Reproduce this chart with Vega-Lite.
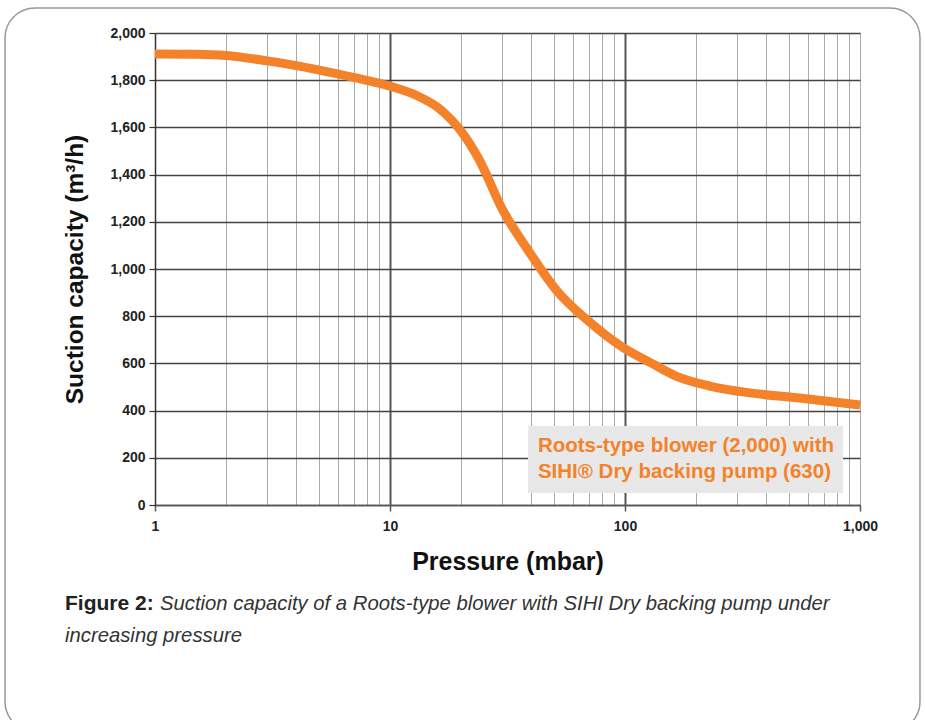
{
  "$schema": "https://vega.github.io/schema/vega-lite/v6.json",
  "autosize": {"type": "none"},
  "width": 705,
  "height": 472,
  "padding": {"left": 155, "top": 33, "right": 65, "bottom": 215},
  "background": "white",
  "config": {
    "view": {"stroke": "#999", "strokeWidth": 1},
    "font": "Liberation Sans"
  },
  "datasets": {
    "curve": [
      {"pressure": 1, "capacity": 1911},
      {"pressure": 1.5, "capacity": 1910},
      {"pressure": 2, "capacity": 1905},
      {"pressure": 3, "capacity": 1882},
      {"pressure": 4, "capacity": 1862},
      {"pressure": 5, "capacity": 1843},
      {"pressure": 7, "capacity": 1812},
      {"pressure": 10, "capacity": 1775},
      {"pressure": 13, "capacity": 1735},
      {"pressure": 16, "capacity": 1684},
      {"pressure": 18.4, "capacity": 1628},
      {"pressure": 20, "capacity": 1586},
      {"pressure": 24, "capacity": 1462},
      {"pressure": 30, "capacity": 1255},
      {"pressure": 39.4, "capacity": 1068},
      {"pressure": 51, "capacity": 911},
      {"pressure": 69, "capacity": 784},
      {"pressure": 98, "capacity": 667},
      {"pressure": 130, "capacity": 600},
      {"pressure": 166, "capacity": 545},
      {"pressure": 229, "capacity": 504},
      {"pressure": 340, "capacity": 475},
      {"pressure": 553, "capacity": 453},
      {"pressure": 1000, "capacity": 424}
    ],
    "one": [{"k": 1}]
  },
  "layer": [
    {
      "data": {"name": "curve"},
      "mark": {"type": "line", "color": "#f4822a", "strokeWidth": 9, "interpolate": "monotone", "strokeCap": "butt"},
      "encoding": {
        "x": {
          "field": "pressure",
          "type": "quantitative",
          "scale": {"type": "log", "domain": [1, 1000], "nice": false},
          "axis": {
            "title": "Pressure (mbar)",
            "titleFont": "Liberation Sans",
            "titleFontSize": 25,
            "titleFontWeight": "bold",
            "titleColor": "#111",
            "titlePadding": 16,
            "values": [1,2,3,4,5,6,7,8,9,10,20,30,40,50,60,70,80,90,100,200,300,400,500,600,700,800,900,1000],
            "labelExpr": "datum.value==1||datum.value==10||datum.value==100||datum.value==1000 ? format(datum.value, ',') : ''",
            "labelFont": "Liberation Sans",
            "labelFontSize": 14,
            "labelFontWeight": "bold",
            "labelColor": "#222",
            "labelPadding": 8,
            "labelFlush": false,
            "labelOverlap": false,
            "domainColor": "#555",
            "domainWidth": 1.5,
            "tickColor": "#555",
            "tickWidth": 1.5,
            "tickSize": {"condition": {"test": "datum.value==1||datum.value==10||datum.value==100||datum.value==1000", "value": 6}, "value": 0},
            "grid": true,
            "gridColor": {"condition": {"test": "datum.value==10||datum.value==100", "value": "#555"}, "value": "#aaa"},
            "gridWidth": {"condition": {"test": "datum.value==10||datum.value==100", "value": 2}, "value": 1}
          }
        },
        "y": {
          "field": "capacity",
          "type": "quantitative",
          "scale": {"domain": [0, 2000], "nice": false},
          "axis": {
            "title": "Suction capacity (m³/h)",
            "titleFont": "Liberation Sans",
            "titleFontSize": 24.5,
            "titleFontWeight": "bold",
            "titleColor": "#111",
            "titlePadding": 22,
            "values": [0,200,400,600,800,1000,1200,1400,1600,1800,2000],
            "format": ",.0f",
            "labelFont": "Liberation Sans",
            "labelFontSize": 14,
            "labelFontWeight": "bold",
            "labelColor": "#222",
            "labelPadding": 4,
            "domainColor": "#333",
            "domainWidth": 1.5,
            "tickColor": "#333",
            "tickSize": 6,
            "tickWidth": 1.2,
            "grid": true,
            "gridColor": "#444",
            "gridWidth": 1.3
          }
        }
      }
    },
    {
      "data": {"name": "one"},
      "mark": {"type": "rect", "fill": "none", "stroke": "#999", "strokeWidth": 1.5, "cornerRadius": 30, "clip": false},
      "encoding": {
        "x": {"datum": 0.23, "type": "quantitative"},
        "x2": {"datum": 1800},
        "y": {"datum": 2106, "type": "quantitative"},
        "y2": {"datum": -960}
      }
    },
    {
      "data": {"name": "one"},
      "mark": {"type": "rect", "fill": "#e8e8e8"},
      "encoding": {
        "x": {"datum": 38.7, "type": "quantitative"},
        "x2": {"datum": 847},
        "y": {"datum": 335, "type": "quantitative"},
        "y2": {"datum": 51}
      }
    },
    {
      "data": {"name": "one"},
      "mark": {"type": "text", "text": "Roots-type blower (2,000) with", "align": "left", "baseline": "middle", "font": "Liberation Sans", "fontSize": 20.5, "fontWeight": "bold", "color": "#f4822a"},
      "encoding": {"x": {"datum": 42.6, "type": "quantitative"}, "y": {"datum": 250, "type": "quantitative"}}
    },
    {
      "data": {"name": "one"},
      "mark": {"type": "text", "text": "SIHI® Dry backing pump (630)", "align": "left", "baseline": "middle", "font": "Liberation Sans", "fontSize": 20.5, "fontWeight": "bold", "color": "#f4822a"},
      "encoding": {"x": {"datum": 42.6, "type": "quantitative"}, "y": {"datum": 140, "type": "quantitative"}}
    },
    {
      "data": {"name": "one"},
      "mark": {"type": "text", "text": "Figure 2:", "align": "left", "baseline": "middle", "font": "Liberation Sans", "fontSize": 21, "fontWeight": "bold", "color": "#222", "clip": false},
      "encoding": {"x": {"datum": 0.414, "type": "quantitative"}, "y": {"datum": -420, "type": "quantitative"}}
    },
    {
      "data": {"name": "one"},
      "mark": {"type": "text", "text": "Suction capacity of a Roots-type blower with SIHI Dry backing pump under", "align": "left", "baseline": "middle", "font": "Liberation Sans", "fontSize": 20.3, "fontStyle": "italic", "color": "#333", "clip": false},
      "encoding": {"x": {"datum": 1.05, "type": "quantitative"}, "y": {"datum": -420, "type": "quantitative"}}
    },
    {
      "data": {"name": "one"},
      "mark": {"type": "text", "text": "increasing pressure", "align": "left", "baseline": "middle", "font": "Liberation Sans", "fontSize": 20.3, "fontStyle": "italic", "color": "#333", "clip": false},
      "encoding": {"x": {"datum": 0.414, "type": "quantitative"}, "y": {"datum": -555, "type": "quantitative"}}
    }
  ]
}
